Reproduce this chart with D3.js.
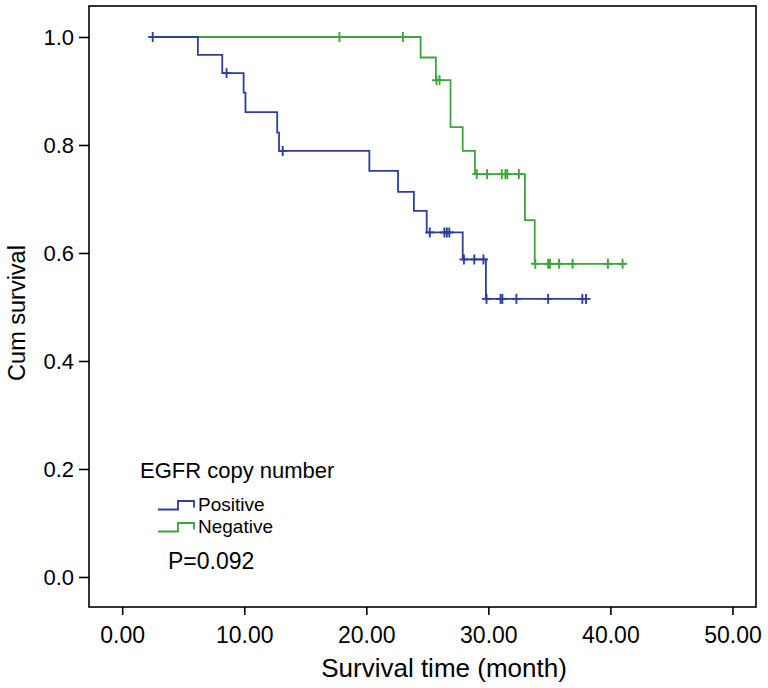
<!DOCTYPE html>
<html>
<head>
<meta charset="utf-8">
<script src="https://cdn.jsdelivr.net/npm/d3@7"></script>
<style>
  body { margin: 0; background: #fff; }
  text { font-family: "Liberation Sans", Arial, sans-serif; fill: #000; }
</style>
</head>
<body>
<svg id="chart" width="768" height="688"></svg>
<script>
// Kaplan-Meier steps: [time, survival after the drop]
const posStart = 2.5;
const posEnd = 38.1;
const posEvents = [
  [6.2, 0.967], [8.2, 0.933], [9.95, 0.897], [10.1, 0.861],
  [12.7, 0.823], [12.85, 0.789], [20.25, 0.752], [22.6, 0.713],
  [23.9, 0.678], [24.95, 0.638], [27.9, 0.588], [29.8, 0.515]
];
const posCensor = [2.5, 8.55, 13.15, 25.2, 26.4, 26.6, 26.8, 28.0, 28.85, 29.6,
  29.85, 31.0, 31.15, 32.3, 34.9, 37.7, 38.0];

const negStart = 2.5;
const negEnd = 41.3;
const negEvents = [
  [24.45, 0.962], [25.7, 0.920], [26.9, 0.833], [27.9, 0.789],
  [28.9, 0.746], [33.0, 0.661], [33.8, 0.580]
];
const negCensor = [17.8, 23.0, 25.75, 26.0, 29.05, 29.9, 31.1, 31.4, 31.55, 32.5,
  33.85, 34.9, 35.05, 35.8, 36.9, 39.8, 41.0];

const xTicks = [0, 10, 20, 30, 40, 50];
const yTicks = [0, 0.2, 0.4, 0.6, 0.8, 1.0];

const blue = "#2c3f99";
const green = "#3ca63c";

const svg = d3.select("#chart");

const x = d3.scaleLinear().domain([-2.72, 51.93]).range([89, 756]);
const y = d3.scaleLinear().domain([-0.0556, 1.0574]).range([607, 6]);

// frame
svg.append("rect")
  .attr("x", x.range()[0]).attr("y", y.range()[1])
  .attr("width", x.range()[1] - x.range()[0])
  .attr("height", y.range()[0] - y.range()[1])
  .attr("fill", "none").attr("stroke", "#000").attr("stroke-width", 1.6);

const xAxis = svg.append("g")
  .attr("transform", `translate(0,${y.range()[0]})`)
  .call(d3.axisBottom(x).tickValues(xTicks).tickFormat(d3.format(".2f"))
    .tickSize(8).tickPadding(12).tickSizeOuter(0));
xAxis.select(".domain").remove();
xAxis.selectAll("line").attr("stroke-width", 1.6);
xAxis.selectAll("text").style("font-size", "23px");

const yAxis = svg.append("g")
  .attr("transform", `translate(${x.range()[0]},0)`)
  .call(d3.axisLeft(y).tickValues(yTicks).tickFormat(d3.format(".1f"))
    .tickSize(10).tickPadding(5).tickSizeOuter(0));
yAxis.select(".domain").remove();
yAxis.selectAll("line").attr("stroke-width", 1.6);
yAxis.selectAll("text").style("font-size", "22px");

// axis titles
svg.append("text")
  .attr("x", 444)
  .attr("y", 677)
  .attr("text-anchor", "middle")
  .style("font-size", "26px")
  .text("Survival time (month)");

svg.append("text")
  .attr("transform", "translate(25,313) rotate(-90)")
  .attr("text-anchor", "middle")
  .style("font-size", "23.5px")
  .text("Cum survival");

// step path built from the event list
function kmPath(start, events, end) {
  let d = `M${x(start)},${y(1)}`;
  events.forEach(([t, v]) => {
    d += `H${x(t)}V${y(v)}`;
  });
  d += `H${x(end)}`;
  return d;
}

function levelAt(events, t) {
  let s = 1;
  events.forEach(([et, v]) => { if (et <= t) s = v; });
  return s;
}

function drawCurve(start, events, end, censor, color) {
  svg.append("path")
    .attr("d", kmPath(start, events, end))
    .attr("fill", "none")
    .attr("stroke", color)
    .attr("stroke-width", 1.8);

  const g = svg.append("g").attr("stroke", color).attr("stroke-width", 1.9);
  censor.forEach(t => {
    const cx = x(t), cy = y(levelAt(events, t));
    g.append("line").attr("x1", cx).attr("x2", cx).attr("y1", cy - 5).attr("y2", cy + 5);
    g.append("line").attr("x1", cx - 4.5).attr("x2", cx + 4.5).attr("y1", cy).attr("y2", cy);
  });
}

drawCurve(negStart, negEvents, negEnd, negCensor, green);
drawCurve(posStart, posEvents, posEnd, posCensor, blue);

// legend
svg.append("text").attr("x", 140).attr("y", 478)
  .style("font-size", "22px").text("EGFR copy number");

const legendItems = [
  { label: "Positive", color: blue, base: 509.5 },
  { label: "Negative", color: green, base: 531.5 }
];
legendItems.forEach(it => {
  svg.append("path")
    .attr("d", `M158,${it.base}H178V${it.base - 8.5}H194V${it.base - 2}`)
    .attr("fill", "none").attr("stroke", it.color).attr("stroke-width", 1.8);
  svg.append("text").attr("x", 198).attr("y", it.base + 1.5)
    .style("font-size", "19px").text(it.label);
});

svg.append("text").attr("x", 168).attr("y", 569)
  .style("font-size", "23px").text("P=0.092");
</script>
</body>
</html>
